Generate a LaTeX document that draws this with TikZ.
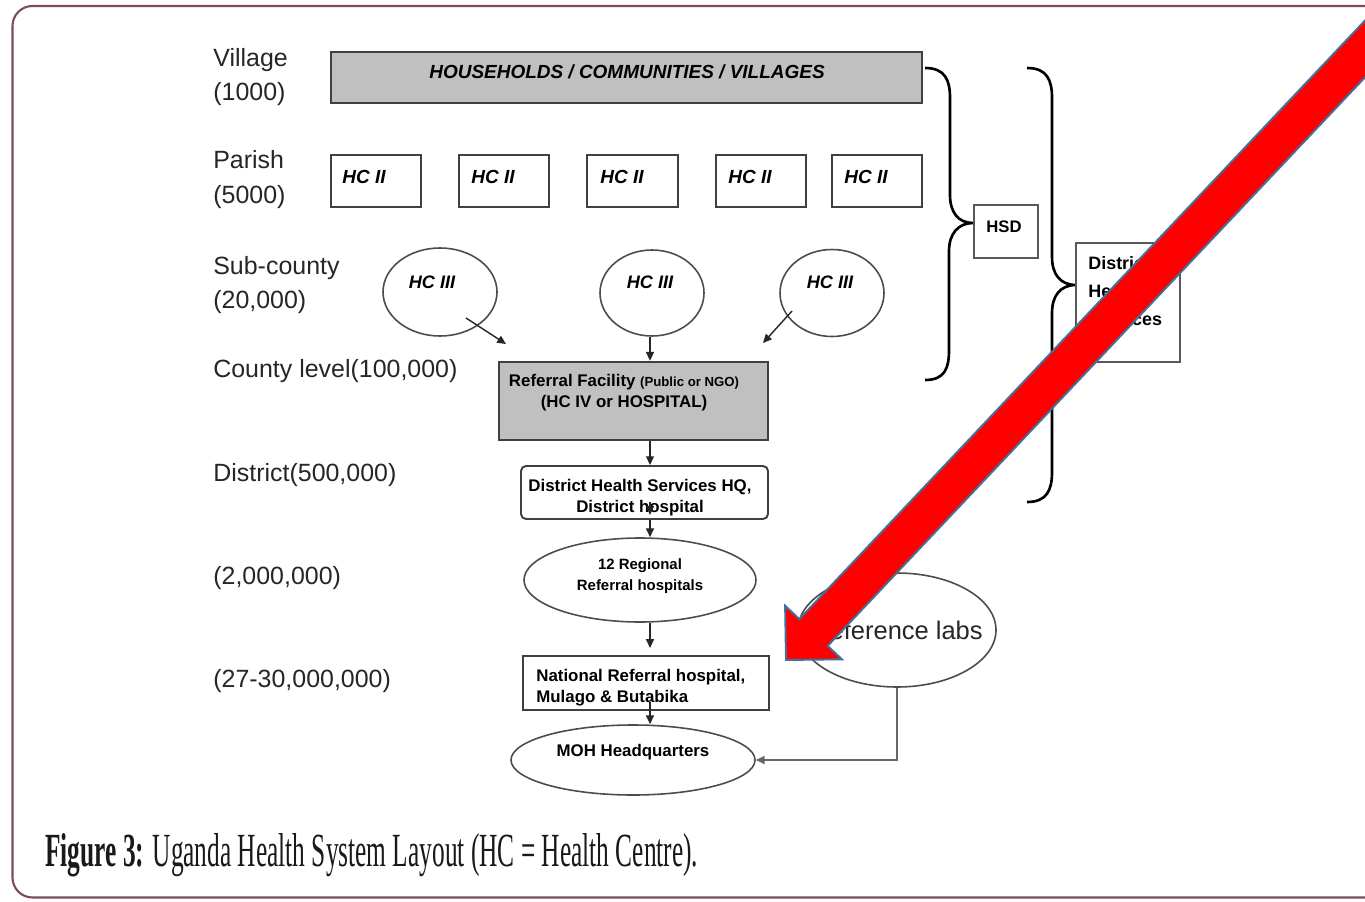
\documentclass[tikz,border=0pt]{standalone}
\usepackage{fontspec}
\setmainfont{Liberation Sans}
\newfontfamily\capfont{Liberation Serif}
\usetikzlibrary{shapes.geometric,arrows.meta,fit}
\definecolor{framecol}{HTML}{7B4B5E}
\definecolor{arrowline}{HTML}{41719C}
\definecolor{boxgray}{HTML}{C0C0C0}
\def\pxu{0.02cm}
\begin{document}
\begin{tikzpicture}[x=0.02cm,y=-0.02cm,
  lab/.style={anchor=base west,inner sep=0,font=\fontsize{14.2}{16}\selectfont,text=black!85},
  box/.style={draw=black!75,line width=1.1pt,inner sep=0},
  gbox/.style={box,fill=boxgray},
  ell/.style={ellipse,draw=black!70,line width=0.9pt,inner sep=0},
  bi/.style={inner sep=0,font=\fontsize{10.8}{13}\selectfont\bfseries\itshape},
  bt/.style={inner sep=0,align=center,font=\fontsize{9.6}{13}\selectfont\bfseries},
  arr/.style={draw=black!85,line width=0.8pt,-{Triangle[length=5pt,width=4.5pt]}},
  brace/.style={draw=black,line width=1.5pt},
  ]
\useasboundingbox (0,0) rectangle (1365,902);
\clip (0,0) rectangle (1365,902);
\fill[white] (0,0) rectangle (1365,902);
% frame
\draw[framecol,line width=1.2pt,rounded corners=0.4cm] (12.5,6) rectangle (1420,897.5);

% left labels
\node[lab] (l1) at (213,67) {Village};
\node[lab] (l2) at (213,101) {(1000)};
\node[lab] (l3) at (213,169) {Parish};
\node[lab] (l4) at (213,204) {(5000)};
\node[lab] (l5) at (213,275) {Sub-county};
\node[lab] (l6) at (213,308) {(20,000)};
\node[lab] (l7) at (213,377) {County level(100,000)};
\node[lab] (l8) at (213,481) {District(500,000)};
\node[lab] (l9) at (213,584) {(2,000,000)};
\node[lab] (l10) at (213,687) {(27-30,000,000)};

% households
\node[gbox,line width=1.4pt,fit={(331,52) (922,103)}] (hh) {};
\node[bi] (hht) at (627,72) {HOUSEHOLDS / COMMUNITIES / VILLAGES};

% HC II
\node[box,fit={(331,155) (421,207)}] (h1) {};
\node[box,fit={(459,155) (549,207)}] (h2) {};
\node[box,fit={(587,155) (678,207)}] (h3) {};
\node[box,fit={(716,155) (806,207)}] (h4) {};
\node[box,fit={(832,155) (922,207)}] (h5) {};
\node[bi] (h1t) at (364,177) {HC II};
\node[bi] (h2t) at (493,177) {HC II};
\node[bi] (h3t) at (622,177) {HC II};
\node[bi] (h4t) at (750,177) {HC II};
\node[bi] (h5t) at (866,177) {HC II};

% HC III
\node[ell,minimum width=114*\pxu,minimum height=88*\pxu] (e1) at (440,292) {};
\node[ell,minimum width=104*\pxu,minimum height=86*\pxu] (e2) at (652,293) {};
\node[ell,minimum width=104*\pxu,minimum height=87*\pxu] (e3) at (832,293) {};
\node[bi,font=\fontsize{10.3}{12}\selectfont\bfseries\itshape] (e1t) at (432,282) {HC III};
\node[bi,font=\fontsize{10.3}{12}\selectfont\bfseries\itshape] (e2t) at (650,282) {HC III};
\node[bi,font=\fontsize{10.3}{12}\selectfont\bfseries\itshape] (e3t) at (830,282) {HC III};

% referral facility
\node[gbox,line width=1.4pt,fit={(499,362) (768,440)}] (ref) {};
\node[bt] (reft) at (624,393) {Referral Facility {\fontsize{7.5}{9}\selectfont(Public or NGO)}\\[-1pt](HC IV or HOSPITAL)};

\coordinate (xc) at (650,0);
\coordinate (s1) at (466,318);
\coordinate (t1) at (506,344);
\coordinate (s3) at (792,311);
\coordinate (t3) at (763,343);
\draw[arr] (s1) -- (t1);
\draw[arr] (e2.south -| xc) -- (ref.north -| xc);
\draw[arr] (s3) -- (t3);

% district
\node[box,rounded corners=0.1cm,fit={(521,466) (768,519)}] (dist) {};
\node[bt] (distt) at (640,498) {District Health Services HQ,\\[-1pt]District hospital};
\draw[arr] (ref.south -| xc) -- (dist.north -| xc);

% regional
\node[ell,minimum width=232*\pxu,minimum height=84*\pxu] (reg) at (640,580) {};
\node[bt,font=\fontsize{8.5}{12}\selectfont\bfseries] (regt) at (640,576) {12 Regional\\Referral hospitals};
\coordinate (d1) at (650,502);
\coordinate (d2) at (650,515);
\draw[arr] (d1) -- (d2);
\draw[arr] (dist.south -| xc) -- (reg.north -| xc);

% national
\node[box,fit={(523,656) (769,710)}] (nat) {};
\node[bt,anchor=west,align=left] (natt) at (536,688) {National Referral hospital,\\[-1pt]Mulago \& Butabika};
\coordinate (n1) at (650,648);
\draw[arr] (reg.south -| xc) -- (n1);

% MOH
\node[ell,minimum width=244*\pxu,minimum height=70*\pxu] (moh) at (633,760) {};
\node[bt] (moht) at (633,752) {MOH Headquarters};
\coordinate (n2) at (650,702);
\draw[arr] (n2) -- (moh.north -| xc);

% reference labs
\node[ell,minimum width=198*\pxu,minimum height=114*\pxu] (rl) at (897,630) {};
\node[inner sep=0,font=\fontsize{14.5}{16}\selectfont,text=black!85] (rlt) at (897,630) {Reference labs};
\draw[arr,draw=black!60] (rl.south) |- (moh.east);

% braces
\coordinate (b1) at (973,223);
\draw[brace] (925,68) .. controls (945,68) and (950,80) .. (950,98) -- (950,195)
  .. controls (950,212) and (958,223) .. (b1)
  .. controls (958,223) and (949,234) .. (949,251) -- (949,350)
  .. controls (949,368) and (945,380) .. (925,380);
\node[box,line width=0.8pt,draw=black!65,fit={(974,205) (1038,258)}] (hsd) {};
\node[bt,font=\fontsize{9.5}{12}\selectfont\bfseries] (hsdt) at (1004,227) {HSD};

\coordinate (b2) at (1076,285);
\draw[brace] (1027,68) .. controls (1047,68) and (1052,80) .. (1052,98) -- (1052,257)
  .. controls (1052,274) and (1060,285) .. (b2)
  .. controls (1060,285) and (1052,296) .. (1052,313) -- (1052,472)
  .. controls (1052,490) and (1047,502) .. (1027,502);
\node[box,line width=0.8pt,draw=black!65,fit={(1076,243) (1180,362)}] (dhs) {};
\node[anchor=north west,inner sep=0,align=left,font=\fontsize{10.2}{15.9}\selectfont\bfseries] (dhst) at (1088,256) {District\\Health\\Services};

% caption
\node[anchor=base west,inner sep=0,text=black!90] (cap) at (45,866) {\resizebox{13.06cm}{0.66cm}{\capfont\textbf{Figure 3:} Uganda Health System Layout (HC = Health Centre).}};

% red arrow
\fill[red,draw=arrowline,line width=1.1pt,line join=miter]
  (786,660) -- (841.9,659.3) -- (827.7,645.9) -- (1514.7,-81.1) -- (1486.3,-107.9)
  -- (799.3,619.1) -- (785.1,605.7) -- cycle;
\end{tikzpicture}
\end{document}
